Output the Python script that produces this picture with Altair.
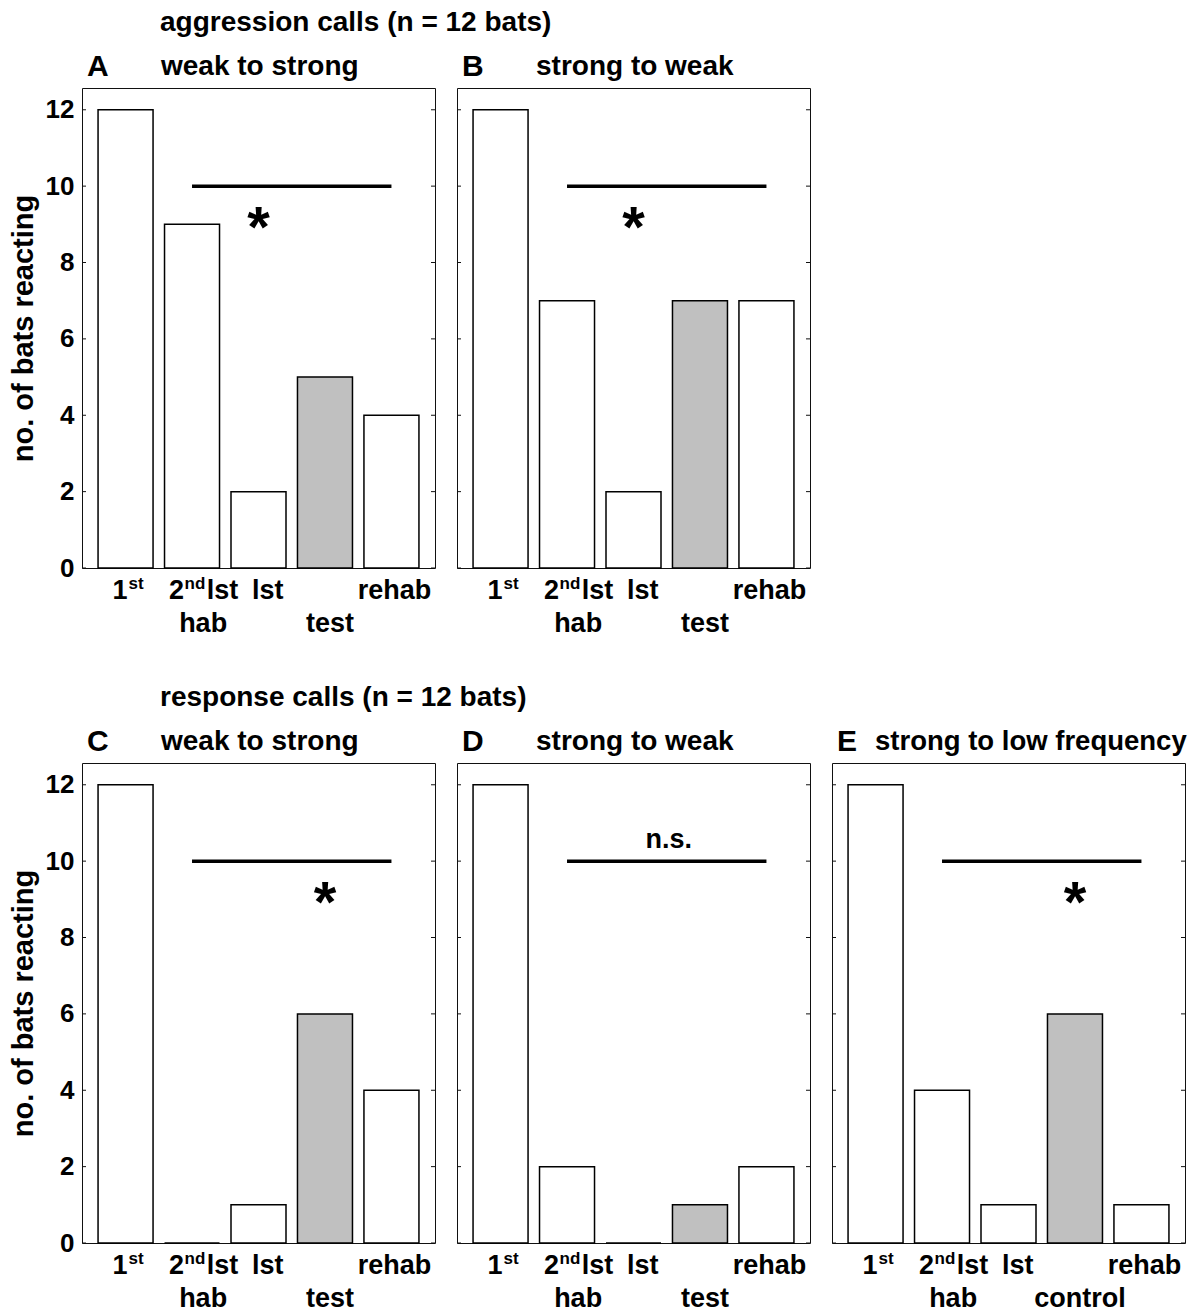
import altair as alt
import pandas as pd

# ---------------- data ----------------
positions = [1, 2, 3, 4, 5]
stages = ["1st", "2nd lst hab", "lst", "test", "rehab"]
is_test = [False, False, False, True, False]

panel_ids = ["A", "B", "C", "D", "E"]
subtitles = ["weak to strong", "strong to weak", "weak to strong",
             "strong to weak", "strong to low frequency"]
values_A = [12, 9, 2, 5, 4]
values_B = [12, 7, 2, 7, 7]
values_C = [12, 0, 1, 6, 4]
values_D = [12, 2, 0, 1, 2]
values_E = [12, 4, 1, 6, 1]
fourth_labels = ["test", "test", "test", "test", "control"]

group_titles = ["aggression calls (n = 12 bats)", "response calls (n = 12 bats)"]
y_ticks = [0, 2, 4, 6, 8, 10, 12]

# significance bar between stage 2 and stage 5 at level 10
sig_from = [2, 2, 2, 2, 2]
sig_to = [5, 5, 5, 5, 5]
sig_level = [10, 10, 10, 10, 10]
sig_text = ["*", "*", "*", "n.s.", "*"]
sig_text_x = [3, 3, 4, 3.53, 4]
sig_text_y = [8.4, 8.4, 8.4, 10.34, 8.4]

# x tick label pieces (text, position on stage axis)
main_labels = ["1", "2", "lst", "lst", "rehab"]
main_label_x = [0.917, 1.765, 2.459, 3.139, 5.046]
sup_labels = ["st", "nd"]
sup_label_x = [1.158, 2.043]
second_label_x = [2.167, 4.074]

# ---------------- style ----------------
W, H = 353, 480
X_DOMAIN = [0.42, 5.58]
Y_DOMAIN = [0, 12.57]
FONT = "Liberation Sans"
INK = "#111"

xs = alt.Scale(domain=X_DOMAIN, nice=False, zero=False)
ys = alt.Scale(domain=Y_DOMAIN, nice=False, zero=True)


def text_layer(df, size, baseline="alphabetic", align="center", **enc):
    return alt.Chart(df).mark_text(
        font=FONT, fontWeight="bold", fontSize=size, baseline=baseline,
        align=align, color="black"
    ).encode(**enc)


def panel(i, show_y, group_title=None):
    vals = [values_A, values_B, values_C, values_D, values_E][i]
    df = pd.DataFrame({
        "pos": positions, "stage": stages, "value": vals,
        "kind": ["test" if t else "other" for t in is_test],
    })
    if show_y:
        yaxis = alt.Axis(values=y_ticks, title="no. of bats reacting", ticks=False,
                         tickSize=0, domain=False, grid=False, labelPadding=8,
                         titlePadding=7, format="d")
    else:
        yaxis = None

    def Y(field):
        return alt.Y(field, scale=ys, axis=yaxis, title="no. of bats reacting")

    bars = alt.Chart(df).mark_bar(size=55, stroke="black", strokeWidth=1.5).encode(
        x=alt.X("pos:Q", scale=xs, axis=None),
        y=Y("value:Q"),
        fill=alt.Fill("kind:N", scale=alt.Scale(domain=["other", "test"],
                                                range=["white", "#c0c0c0"]),
                      legend=None),
    )

    tick_df = pd.DataFrame({"value": y_ticks})
    lticks = alt.Chart(tick_df).mark_rule(color=INK, strokeWidth=1).encode(
        y=Y("value:Q"), x=alt.value(0), x2=alt.value(4))
    rticks = alt.Chart(tick_df).mark_rule(color=INK, strokeWidth=1).encode(
        y=Y("value:Q"), x=alt.value(W - 4), x2=alt.value(W))

    sig_df = pd.DataFrame({"x1": [sig_from[i]], "x2": [sig_to[i]], "value": [sig_level[i]]})
    sig = alt.Chart(sig_df).mark_rule(color="black", strokeWidth=3.5).encode(
        x=alt.X("x1:Q", scale=xs, axis=None), x2="x2:Q",
        y=Y("value:Q"))

    ann_df = pd.DataFrame({"t": [sig_text[i]], "x": [sig_text_x[i]], "value": [sig_text_y[i]]})
    ann = text_layer(ann_df, 58 if sig_text[i] == "*" else 27,
                     x=alt.X("x:Q", scale=xs, axis=None),
                     y=Y("value:Q"), text="t:N")

    main_df = pd.DataFrame({"t": main_labels, "x": main_label_x})
    main = text_layer(main_df, 27, x=alt.X("x:Q", scale=xs, axis=None),
                      y=alt.value(H + 31), text="t:N")
    sup_df = pd.DataFrame({"t": sup_labels, "x": sup_label_x})
    sup = text_layer(sup_df, 17, x=alt.X("x:Q", scale=xs, axis=None),
                     y=alt.value(H + 21), text="t:N")
    sec_df = pd.DataFrame({"t": ["hab", fourth_labels[i]], "x": second_label_x})
    sec = text_layer(sec_df, 27, x=alt.X("x:Q", scale=xs, axis=None),
                     y=alt.value(H + 64), text="t:N")

    letter = text_layer(pd.DataFrame({"t": [panel_ids[i]]}), 30, align="left",
                        x=alt.value(5), y=alt.value(-12), text="t:N")
    if i == 4:
        sub = text_layer(pd.DataFrame({"t": [subtitles[i]]}), 27.5, align="left",
                         x=alt.value(43), y=alt.value(-13), text="t:N")
    else:
        sub = text_layer(pd.DataFrame({"t": [subtitles[i]]}), 28, align="left",
                         x=alt.value(79), y=alt.value(-13), text="t:N")

    layers = [bars, lticks, rticks, sig, ann, main, sup, sec, letter, sub]
    if group_title is not None:
        gt = text_layer(pd.DataFrame({"t": [group_title]}), 28, align="left",
                        x=alt.value(78), y=alt.value(-57), text="t:N")
        layers.append(gt)
    return alt.layer(*layers).properties(width=W, height=H)


pA = panel(0, True, group_titles[0])
pB = panel(1, False)
blank = alt.Chart(pd.DataFrame({"v": [0]})).mark_point(opacity=0).encode(
    x=alt.value(0), y=alt.value(0)
).properties(width=W, height=H, view=alt.ViewBackground(stroke="transparent"))
pC = panel(2, True, group_titles[1])
pD = panel(3, False)
pE = panel(4, False)

chart = alt.concat(
    pA, pB, blank, pC, pD, pE, columns=3,
    spacing={"row": 195, "column": 22}, bounds="flush",
).properties(
    padding={"left": 0, "top": 0, "right": 0, "bottom": 0}
).configure_view(
    stroke=INK, strokeWidth=1
).configure_axis(
    labelFont=FONT, labelFontSize=26, labelFontWeight="bold", labelColor="black",
    titleFont=FONT, titleFontSize=29, titleFontWeight="bold", titleColor="black",
)

chart.save("out.html", embed_options={"renderer": "svg", "actions": False})
